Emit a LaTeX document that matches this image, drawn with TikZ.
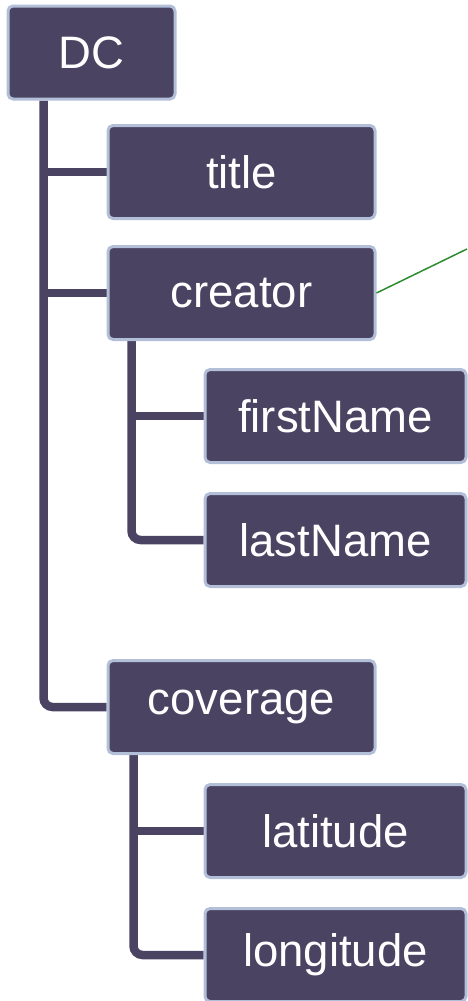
\documentclass[tikz,border=0pt]{standalone}
\usepackage{fontspec}
\setmainfont{Liberation Sans}
\usetikzlibrary{backgrounds}
\definecolor{boxfill}{HTML}{4A4362}
\definecolor{boxline}{HTML}{B3BFD8}
\definecolor{notegreen}{HTML}{2E8B2E}
\begin{document}
\begin{tikzpicture}[x=1pt,y=-1pt, line join=round,
	elem/.style={draw=boxline, fill=boxfill, line width=3pt, rounded corners=5pt, text=white,
		font=\fontsize{45.5}{50}\selectfont, minimum height=93pt, inner sep=0pt},
	rootbox/.style={elem, minimum width=167pt},
	parentbox/.style={elem, minimum width=267pt},
	leafbox/.style={elem, minimum width=261pt},
	branch/.style={draw=boxfill, line width=8.5pt, rounded corners=9pt}]
	\useasboundingbox (0,0) rectangle (467,1001);
	% elements
	\node[rootbox] (DC) at (91.5,52.5) {DC};
	\node[parentbox] (title) at (241.5,172) {title};
	\node[parentbox] (creator) at (241.5,293) {creator};
	\node[leafbox] (firstName) at (335.5,416) {firstName};
	\node[leafbox] (lastName) at (335.5,540) {lastName};
	\node[parentbox] (coverage) at (241.5,707) {coverage};
	\node[leafbox] (latitude) at (335.5,831) {latitude};
	\node[leafbox] (longitude) at (335.5,955) {longitude};
	% tree lines
	\coordinate (DCtrunk) at ([xshift=37pt]DC.south west);
	\coordinate (creatortrunk) at ([xshift=25pt]creator.south west);
	\coordinate (coveragetrunk) at ([xshift=27pt]coverage.south west);
	\begin{scope}[on background layer]
		\draw[branch] (DCtrunk) |- (coverage.west);
		\draw[branch] (DCtrunk |- title.west) -- (title.west);
		\draw[branch] (DCtrunk |- creator.west) -- (creator.west);
		\draw[branch] (creatortrunk) |- (lastName.west);
		\draw[branch] (creatortrunk |- firstName.west) -- (firstName.west);
		\draw[branch] (coveragetrunk) |- (longitude.west);
		\draw[branch] (coveragetrunk |- latitude.west) -- (latitude.west);
	\end{scope}
	% note line
	\coordinate (noteend) at (467,249);
	\draw[notegreen, line width=1.5pt] (creator.east) -- (noteend);
\end{tikzpicture}
\end{document}
